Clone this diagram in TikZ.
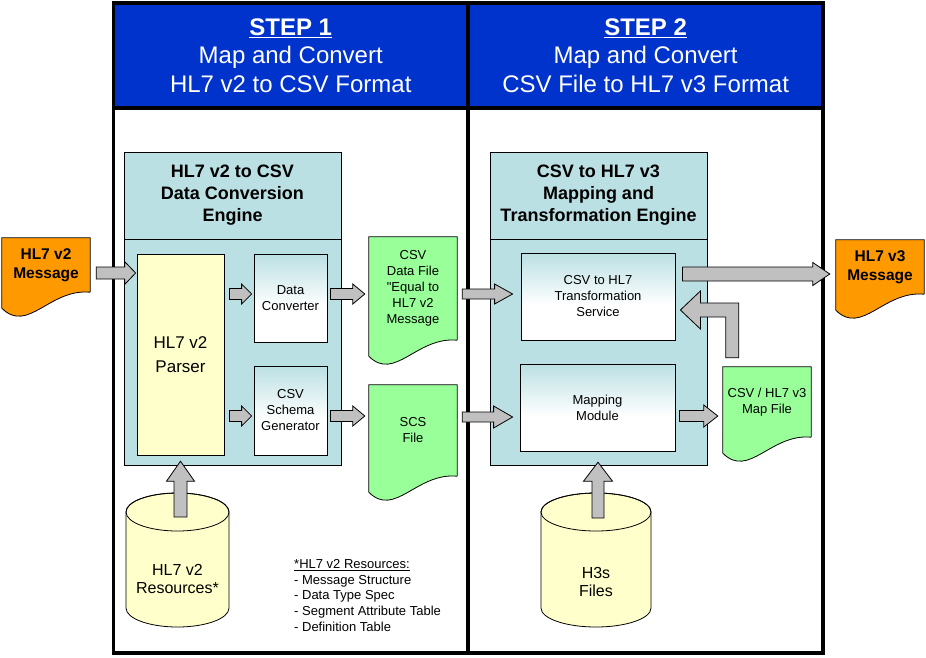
\documentclass[tikz,border=0pt]{standalone}
\usepackage{fontspec}
\setmainfont{Liberation Sans}
\usetikzlibrary{calc,positioning,backgrounds}

\definecolor{headblue}{RGB}{0,51,204}
\definecolor{engblue}{RGB}{187,224,227}
\definecolor{filegreen}{RGB}{153,255,153}
\definecolor{msgorange}{RGB}{255,153,0}
\definecolor{parseyellow}{RGB}{255,255,204}
\definecolor{arrowgray}{RGB}{192,192,192}

\pgfdeclareverticalshading{boxfade}{100bp}{color(0bp)=(white); color(25bp)=(white); color(45bp)=(white); color(75bp)=(engblue); color(100bp)=(engblue)}

% fat grey arrow: body, wing, head length, from, to
\newcommand{\fatarrow}[5]{%
  \coordinate (fa-a) at (#4);
  \coordinate (fa-b) at (#5);
  \coordinate (fa-c) at ($(fa-b)!#3pt!(fa-a)$);
  \draw[fatarrow] ($(fa-a)!#1pt!90:(fa-b)$) -- ($(fa-c)!#1pt!90:(fa-b)$) -- ($(fa-c)!#2pt!90:(fa-b)$) -- (fa-b)
    -- ($(fa-c)!#2pt!-90:(fa-b)$) -- ($(fa-c)!#1pt!-90:(fa-b)$) -- ($(fa-a)!#1pt!-90:(fa-b)$) -- cycle;}

% wavy bottom of a document node
\newcommand{\docwave}[2]{%
  \fill[#2] (#1.south west) -- ($(#1.south west)+(0,16)$) .. controls ($(#1.south west)+(26,42)$) and ($(#1.south west)+(48,-4)$) .. (#1.south east) -- cycle;
  \draw[outline] (#1.south east) -- (#1.north east) -- (#1.north west) -- ($(#1.south west)+(0,16)$)
    .. controls ($(#1.south west)+(26,42)$) and ($(#1.south west)+(48,-4)$) .. (#1.south east);}

% data store drum round a text node
\newcommand{\drum}[4]{%
  \path[drumbody] ($(#1)+(-#2,#3)$) -- ($(#1)+(-#2,#4)$) arc[start angle=180,end angle=360,x radius=#2pt,y radius=19pt]
    -- ($(#1)+(#2,#3)$) arc[start angle=0,end angle=180,x radius=#2pt,y radius=19pt] -- cycle;
  \draw[outline] ($(#1)+(0,#3)$) ellipse[x radius=#2pt,y radius=19pt];}

\begin{document}
\begin{tikzpicture}[x=1pt,y=-1pt,
  outline/.style={draw=black,line width=0.8pt},
  frame/.style={draw=black,line width=3.5pt},
  stephead/.style={fill=headblue,text=white,minimum width=354.5pt,minimum height=105pt,inner sep=0pt,align=center,font=\fontsize{24}{28.5}\selectfont},
  enghead/.style={outline,fill=engblue,minimum width=217pt,minimum height=87pt,inner sep=0pt,align=center,font=\fontsize{18}{22}\selectfont\bfseries},
  engbody/.style={outline,fill=engblue,minimum width=217pt,minimum height=226pt,inner sep=0pt},
  parsebox/.style={outline,fill=parseyellow,minimum width=87pt,minimum height=201pt,inner sep=0pt,align=center,font=\fontsize{17}{24}\selectfont},
  fadebox/.style={outline,shade,shading=boxfade,inner sep=0pt,align=center,font=\fontsize{13}{16}\selectfont},
  docnode/.style={minimum width=88pt,inner sep=0pt,align=center},
  msgdoc/.style={docnode,fill=msgorange,minimum height=54pt,font=\fontsize{15.5}{19.5}\selectfont\bfseries},
  filedoc/.style={docnode,fill=filegreen,font=\fontsize{13}{16}\selectfont},
  drumtext/.style={align=center,font=\fontsize{16}{18}\selectfont},
  drumbody/.style={outline,fill=parseyellow},
  notetext/.style={align=left,inner sep=0pt,anchor=north west,font=\fontsize{13}{15.8}\selectfont},
  fatarrow/.style={outline,fill=arrowgray,line join=miter}]
\useasboundingbox (0,0) rectangle (926,657);
\coordinate (base) at (0,653);

% step headers and frame
\node[stephead] (step1) at (290.75,55.5) {\textbf{\underline{STEP 1}}\\Map and Convert\\HL7 v2 to CSV Format};
\node[stephead,right=0pt of step1] (step2) {\textbf{\underline{STEP 2}}\\Map and Convert\\CSV File to HL7 v3 Format};
\draw[frame] (step1.north west) -- (step2.north east) -- (step2.north east |- base) -- (step1.north west |- base) -- cycle;
\draw[frame] (step1.north east) -- (step1.north east |- base);
\draw[frame] (step1.south west) -- (step2.south east);

% engines
\node[enghead] (eng1head) at (232.5,195.5) {HL7 v2 to CSV\\Data Conversion\\Engine};
\node[engbody,below=0pt of eng1head] (eng1body) {};
\node[enghead] (eng2head) at (598.5,195.5) {CSV to HL7 v3\\Mapping and\\Transformation Engine};
\node[engbody,below=0pt of eng2head] (eng2body) {};

\node[parsebox] (parser) at (180.5,354.5) {HL7 v2\\Parser};
\node[fadebox,minimum width=73pt,minimum height=88pt] (dataconv) at (290.5,298) {Data\\Converter};
\node[fadebox,minimum width=73pt,minimum height=89pt] (schema) at (290.5,410.5) {CSV\\Schema\\Generator};
\node[fadebox,minimum width=154pt,minimum height=87pt] (service) at (598,296.5) {CSV to HL7\\Transformation\\Service};
\node[fadebox,minimum width=155pt,minimum height=87pt] (mapping) at (597.5,407.5) {Mapping\\Module};

% documents
\node[msgdoc] (v2msg) at (46,265) {HL7 v2\\Message};
\node[msgdoc] (v3msg) at (880,267) {HL7 v3\\Message};
\node[filedoc,minimum height=103pt] (csvfile) at (413,288.5) {CSV\\Data File\\\textquotedbl Equal to\\HL7 v2\\Message};
\node[filedoc,minimum height=91pt] (scsfile) at (413,430.5) {SCS\\File};
\node[filedoc,minimum height=70pt] (mapfile) at (767,402) {CSV / HL7 v3\\Map File};
\docwave{v2msg}{msgorange}
\docwave{v3msg}{msgorange}
\docwave{csvfile}{filegreen}
\docwave{scsfile}{filegreen}
\docwave{mapfile}{filegreen}

% resources
\node[drumtext] (v2res) at (177.5,579) {HL7 v2\\Resources*};
\node[drumtext] (h3s) at (596,581.5) {H3s\\Files};
\begin{pgfonlayer}{background}
  \drum{v2res}{51.5}{-67}{29}
  \drum{h3s}{55}{-69.5}{26.5}
\end{pgfonlayer}
\node[notetext] (resnote) at (294,559) {\underline{*HL7 v2 Resources:}\\- Message Structure\\- Data Type Spec\\- Segment Attribute Table\\- Definition Table};

% arrows
\fatarrow{6}{11.5}{11}{$(v2msg.east)+(6,8)$}{$(v2msg.east -| parser.west)+(-1,8)$}
\fatarrow{5.5}{10}{10}{$(parser.east |- dataconv)+(5,-4)$}{$(dataconv.west)+(-2,-4)$}
\fatarrow{5.5}{10}{10}{$(parser.east |- schema)+(5,5.5)$}{$(schema.west)+(-2,5.5)$}
\fatarrow{5.5}{10}{12}{$(dataconv.east)+(3,-4)$}{$(dataconv.east -| csvfile.west)+(-4,-4)$}
\fatarrow{5.5}{10}{12}{$(schema.east)+(3,5.5)$}{$(schema.east -| scsfile.west)+(-4,5.5)$}
\fatarrow{5}{10}{18}{$(csvfile.east)+(5,5.5)$}{$(csvfile.east -| service.west)+(-8,5.5)$}
\fatarrow{5}{11}{19}{$(scsfile.east)+(5,-13.5)$}{$(scsfile.east -| mapping.west)+(-7,-13.5)$}
\fatarrow{7}{11.5}{17}{$(service.east)+(7,-22.5)$}{$(service.east -| v3msg.west)+(-6,-22.5)$}
\fatarrow{5.5}{11}{14}{$(mapping.east)+(4,8.5)$}{$(mapping.east -| mapfile.west)+(-5,8.5)$}
\fatarrow{6.5}{14}{20}{$(v2res)+(3,-62)$}{$(v2res |- eng1body.south)+(3,-5)$}
\fatarrow{6}{14.5}{19}{$(h3s)+(2,-63.5)$}{$(h3s |- eng2body.south)+(2,-4)$}

\coordinate (fb-foot) at ($(mapfile.north west)+(9.5,-9)$);
\coordinate (fb-tip) at ($(service.east)+(5,13.5)$);
\draw[fatarrow] let \p1=(fb-foot), \p2=(fb-tip) in
  (\x1-6.5pt,\y1) -- (\x1-6.5pt,\y2-7pt) -- (\x2+20pt,\y2-7pt) -- (\x2+20pt,\y2-19pt) -- (\p2)
  -- (\x2+20pt,\y2+19pt) -- (\x2+20pt,\y2+7pt) -- (\x1+6.5pt,\y2+7pt) -- (\x1+6.5pt,\y1) -- cycle;
\end{tikzpicture}
\end{document}
